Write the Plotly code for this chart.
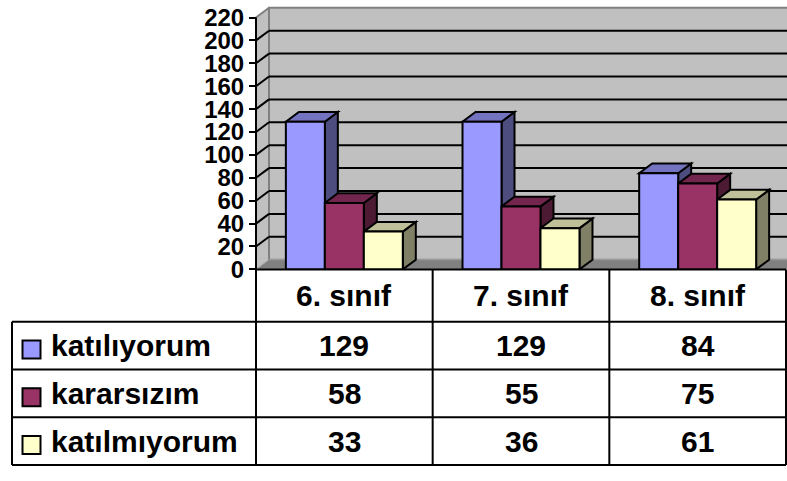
import plotly.graph_objects as go

# ---- data ----
categories = ["6. sınıf", "7. sınıf", "8. sınıf"]
series_names = ["katılıyorum", "kararsızım", "katılmıyorum"]
katiliyorum = [129, 129, 84]
kararsizim = [58, 55, 75]
katilmiyorum = [33, 36, 61]
y_ticks = [0, 20, 40, 60, 80, 100, 120, 140, 160, 180, 200, 220]

series_values = [katiliyorum, kararsizim, katilmiyorum]
front_colors = ["#9999FF", "#993366", "#FFFFCC"]
top_colors = ["#7373BF", "#73264D", "#BFBF99"]
side_colors = ["#4D4D80", "#4D1A33", "#808066"]

# ---- geometry (pixel based layout) ----
W, H = 787, 481
cw = (786 - 256) / 3.0            # px per category
ppu = 260.0 / 220.0               # px per y unit
dx = 13.0 / cw                    # depth offset in x data units
dy = 10.0 / ppu                   # depth offset in y data units
bargap = 0.338
bw = (1 - bargap) / 3.0
FONT = "Liberation Sans, Arial, sans-serif"

x_lo = -0.5 - 6.0 / cw
x_hi = -0.5 + (W - 256) / cw
y_top = (276 - 4) / ppu

fig = go.Figure()

for j, (name, vals) in enumerate(zip(series_names, series_values)):
    fig.add_trace(go.Bar(
        x=list(range(len(categories))), y=vals, name=name,
        marker=dict(color=front_colors[j], line=dict(color="black", width=2)),
        showlegend=False, hoverinfo="skip",
    ))

shapes = []
xw0, xw1 = -0.5 + dx, 2.7 + dx
# side wall
shapes.append(dict(type="path", xref="x", yref="y", layer="below",
                   path=f"M -0.5,0 L {-0.5+dx},{dy} L {-0.5+dx},{220+dy} L -0.5,220 Z",
                   fillcolor="#C0C0C0", line=dict(width=0)))
# back wall
shapes.append(dict(type="rect", xref="x", yref="y", layer="below",
                   x0=xw0, x1=xw1, y0=dy, y1=220 + dy,
                   fillcolor="#C0C0C0", line=dict(color="#808080", width=2)))
for v in y_ticks[1:-1]:
    shapes.append(dict(type="line", xref="x", yref="y", layer="below",
                       x0=xw0, x1=xw1, y0=v + dy, y1=v + dy,
                       line=dict(color="black", width=2)))
    shapes.append(dict(type="line", xref="x", yref="y", layer="below",
                       x0=-0.5, x1=-0.5 + dx, y0=v, y1=v + dy,
                       line=dict(color="black", width=2)))
shapes.append(dict(type="line", xref="x", yref="y", layer="below",
                   x0=-0.5, x1=-0.5 + dx, y0=220, y1=220 + dy,
                   line=dict(color="#808080", width=2)))
# floor
shapes.append(dict(type="path", xref="x", yref="y", layer="below",
                   path=f"M -0.5,0 L 2.7,0 L {2.7+dx},{dy} L {-0.5+dx},{dy} Z",
                   fillcolor="#808080", line=dict(color="#A0A0A0", width=1)))

# 3D faces of bars
for i in range(len(categories)):
    for j, vals in enumerate(series_values):
        v = vals[i]
        xl = i - 1.5 * bw + j * bw
        xr = xl + bw
        shapes.append(dict(type="path", xref="x", yref="y", layer="below",
                           path=f"M {xr},0 L {xr+dx},{dy} L {xr+dx},{v+dy} L {xr},{v} Z",
                           fillcolor=side_colors[j], line=dict(color="black", width=2)))
        shapes.append(dict(type="path", xref="x", yref="y", layer="below",
                           path=f"M {xl},{v} L {xr},{v} L {xr+dx},{v+dy} L {xl+dx},{v+dy} Z",
                           fillcolor=top_colors[j], line=dict(color="black", width=2)))

# front value axis line
shapes.append(dict(type="line", xref="x", yref="y", layer="above",
                   x0=-0.5, x1=-0.5, y0=0, y1=220, line=dict(color="black", width=2)))

# ---- table (on x2/y2) ----
u = 148.0 / 3.0
def row_k(py):
    return (py - 330.0) / u + 0.5
k_head_top = row_k(276)
x2_lo = -0.5 - 256.0 / cw
x_left = -0.5 - 244.0 / cw
x_label = -0.5 - 207.0 / cw
x_swatch = -0.5 - 224.5 / cw

tl = dict(color="black", width=2)
for k in [0.5, 1.5, 2.5, 3.5]:
    shapes.append(dict(type="line", xref="x2", yref="y2", x0=x_left, x1=2.5, y0=k, y1=k, line=tl))
shapes.append(dict(type="line", xref="x2", yref="y2", x0=-0.5, x1=2.5,
                   y0=k_head_top, y1=k_head_top, line=tl))
for xv in [-0.5, 0.5, 1.5, 2.5]:
    shapes.append(dict(type="line", xref="x2", yref="y2", x0=xv, x1=xv,
                       y0=k_head_top, y1=3.5, line=tl))
shapes.append(dict(type="line", xref="x2", yref="y2", x0=x_left, x1=x_left,
                   y0=0.5, y1=3.5, line=tl))

annotations = []
tfont = dict(family=FONT, size=30, color="black", weight="bold")
k_head = (k_head_top + 0.5) / 2
for i, c in enumerate(categories):
    annotations.append(dict(xref="x2", yref="y2", x=i, y=k_head, text=c,
                            showarrow=False, font=tfont, xanchor="center", yanchor="middle"))
for j, (name, vals) in enumerate(zip(series_names, series_values)):
    for i, v in enumerate(vals):
        annotations.append(dict(xref="x2", yref="y2", x=i, y=j + 1, text=str(v),
                                showarrow=False, font=tfont, xanchor="center", yanchor="middle"))
    annotations.append(dict(xref="x2", yref="y2", x=x_label, y=j + 1, text=name,
                            showarrow=False, font=tfont, xanchor="left", yanchor="middle"))

fig.add_trace(go.Scatter(
    x=[x_swatch] * 3, y=[k + 4.0 / u for k in [1, 2, 3]], mode="markers",
    marker=dict(symbol="square", size=18, color=front_colors, line=dict(color="black", width=2)),
    xaxis="x2", yaxis="y2", showlegend=False, hoverinfo="skip",
))

fig.update_layout(
    width=W, height=H,
    margin=dict(l=0, r=0, t=0, b=0, pad=0),
    paper_bgcolor="white", plot_bgcolor="rgba(0,0,0,0)",
    barmode="group", bargap=bargap, bargroupgap=0,
    showlegend=False,
    xaxis=dict(domain=[250 / W, 1], range=[x_lo, x_hi], visible=False),
    yaxis=dict(domain=[1 - 276 / H, 1 - 4 / H], range=[0, y_top],
               anchor="free", position=256 / W,
               tickmode="array", tickvals=y_ticks,
               ticks="outside", ticklen=7, tickwidth=2, tickcolor="black",
               showline=False, showgrid=False, zeroline=False,
               tickfont=dict(family=FONT, size=24, color="black", weight="bold")),
    xaxis2=dict(domain=[0, 1], range=[x2_lo, x_hi], visible=False, anchor="y2"),
    yaxis2=dict(domain=[0, 1 - 270 / H], range=[row_k(481), row_k(270)], visible=False, anchor="x2"),
    shapes=shapes, annotations=annotations,
)

fig.write_html("out.html", config={"displayModeBar": False},
               post_script="document.body.style.margin='0';document.body.style.overflow='hidden';")
